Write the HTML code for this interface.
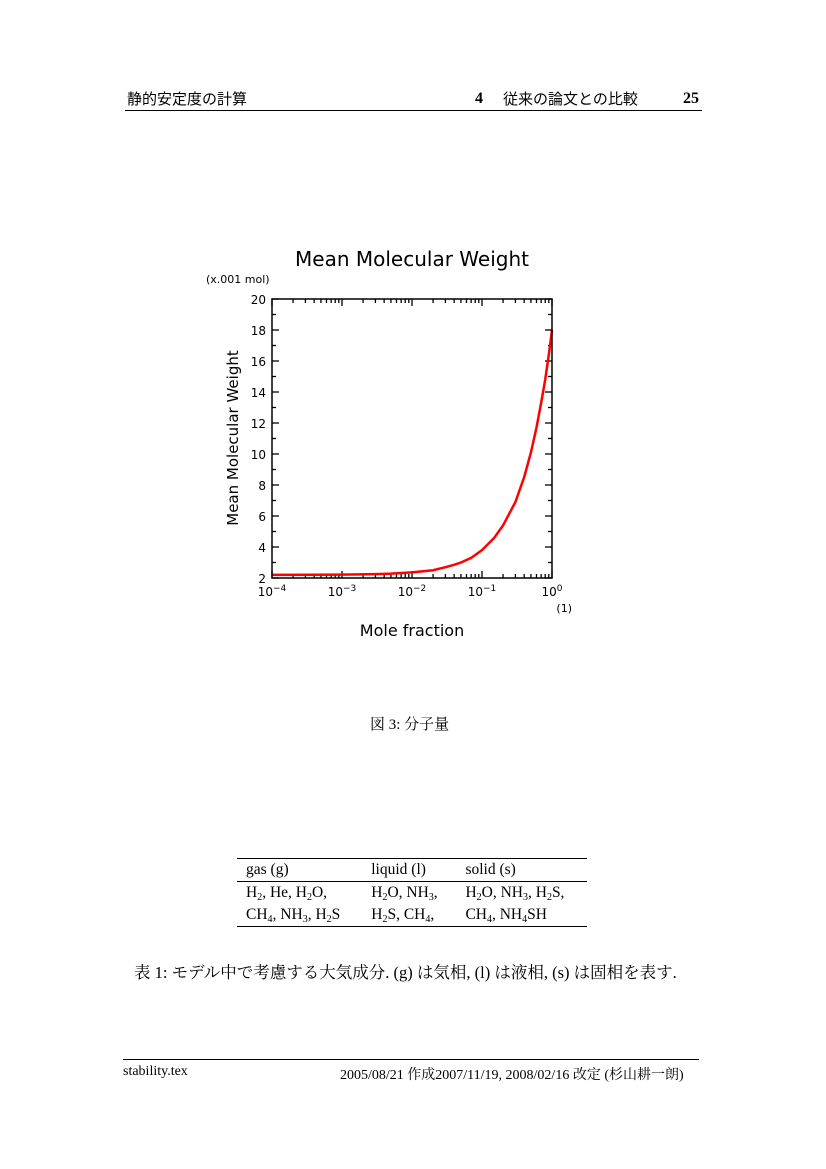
<!DOCTYPE html>
<html><head><meta charset="utf-8">
<style>
body{margin:0;width:826px;height:1169px;background:#fff;position:relative;font-family:"Liberation Serif","Noto Serif CJK SC",serif;color:#000;overflow:hidden}
.abs{position:absolute;white-space:nowrap}
.hdr{font-family:"Liberation Sans","Noto Sans CJK JP",sans-serif;font-size:15px}
table{border-collapse:collapse;font-size:15.5px}
td{padding:1px 9px;line-height:20px;height:20px}
sub{font-size:10px;line-height:0;vertical-align:-3px}
</style></head><body>
<div class="abs hdr" style="left:127px;top:88px">静的安定度の計算</div>
<div class="abs" style="left:475px;top:90px;font-size:16px;font-weight:bold">4</div>
<div class="abs hdr" style="left:503px;top:88px">従来の論文との比較</div>
<div class="abs" style="left:683px;top:90px;font-size:16px;font-weight:bold">25</div>
<div class="abs" style="left:125px;top:110px;width:577px;height:1px;background:#000"></div>

<svg class="abs" style="left:0;top:0" width="826" height="700" font-family="DejaVu Sans, Liberation Sans, sans-serif">
<text x="412" y="266" font-size="20" text-anchor="middle">Mean Molecular Weight</text>
<text x="206" y="283" font-size="11">(x.001 mol)</text>
<text x="412" y="636" font-size="16" text-anchor="middle">Mole fraction</text>
<text x="572" y="612" font-size="11" text-anchor="end">(1)</text>
<text transform="translate(238,438) rotate(-90)" font-size="15" text-anchor="middle">Mean Molecular Weight</text>
<g id="axes"></g>
<path id="curve" fill="none" stroke="#f00" stroke-width="2.5"/>
<rect x="272" y="299" width="280" height="279" fill="none" stroke="#000" stroke-width="1.5"/>
</svg>

<div class="abs" style="left:370px;top:713px;font-size:15px">図 3: 分子量</div>

<table class="abs" style="left:237px;top:858px;width:350px;border-top:1px solid #000;border-bottom:1px solid #000">
<tr style="border-bottom:1px solid #000"><td>gas (g)</td><td>liquid (l)</td><td>solid (s)</td></tr>
<tr><td>H<sub>2</sub>, He, H<sub>2</sub>O,</td><td>H<sub>2</sub>O, NH<sub>3</sub>,</td><td>H<sub>2</sub>O, NH<sub>3</sub>, H<sub>2</sub>S,</td></tr>
<tr><td>CH<sub>4</sub>, NH<sub>3</sub>, H<sub>2</sub>S</td><td>H<sub>2</sub>S, CH<sub>4</sub>,</td><td>CH<sub>4</sub>, NH<sub>4</sub>SH</td></tr>
</table>
<div class="abs" style="left:134px;top:959px;font-size:16.5px">表 1: モデル中で考慮する大気成分. (g) は気相, (l) は液相, (s) は固相を表す.</div>

<div class="abs" style="left:123px;top:1059px;width:576px;height:1px;background:#000"></div>
<div class="abs" style="left:123px;top:1064px;font-size:14px">stability.tex</div>
<div class="abs" style="left:340px;top:1064px;font-size:14px">2005/08/21 作成2007/11/19, 2008/02/16 改定 (杉山耕一朗)</div>

<script>
const xValues=[0.0001,0.001,0.003,0.005,0.01,0.02,0.03,0.04,0.05,0.07,0.1,0.15,0.2,0.3,0.4,0.5,0.6,0.7,0.8,0.9,1];
const yValues=[2.2,2.22,2.25,2.28,2.36,2.5,2.7,2.85,3.0,3.3,3.8,4.6,5.4,6.9,8.5,10.1,11.7,13.3,14.8,16.4,18];
const yTicks=[2,4,6,8,10,12,14,16,18,20];
const xExps=[-4,-3,-2,-1,0];
const X=v=>272+(Math.log10(v)+4)*70;
const Y=v=>578-(v-2)*15.5;
const ns="http://www.w3.org/2000/svg";
const g=document.getElementById('axes');
function line(x1,y1,x2,y2){const l=document.createElementNS(ns,'line');l.setAttribute('x1',x1);l.setAttribute('y1',y1);l.setAttribute('x2',x2);l.setAttribute('y2',y2);l.setAttribute('stroke','#000');l.setAttribute('stroke-width',1.3);


g.appendChild(l);}
function text(x,y,s,anchor){const t=document.createElementNS(ns,'text');t.setAttribute('x',x);t.setAttribute('y',y);t.setAttribute('font-size',12);t.setAttribute('text-anchor',anchor);t.innerHTML=s;


g.appendChild(t);}
yTicks.forEach(v=>{const y=Y(v);line(272,y,279,y);line(552,y,545,y);text(266,y+5,v,'end');});
yTicks.slice(0,-1).forEach(v=>{const y=Y(v+1);line(272,y,276,y);line(552,y,548,y);});
xExps.forEach(e=>{const x=X(Math.pow(10,e));line(x,578,x,571);line(x,299,x,306);
text(x,596,'10<tspan font-size="9" dy="-5">'+(e===0?'0':'−'+(-e))+'</tspan>','middle');
if(e<0){for(let k=2;k<10;k++){const xx=X(k*Math.pow(10,e));line(xx,578,xx,574);line(xx,299,xx,303);}}});
let d='';xValues.forEach((v,i)=>{d+=(i?'L':'M')+X(v)+','+Y(yValues[i]);});
document.getElementById('curve').setAttribute('d',d);
</script>
</body></html>
